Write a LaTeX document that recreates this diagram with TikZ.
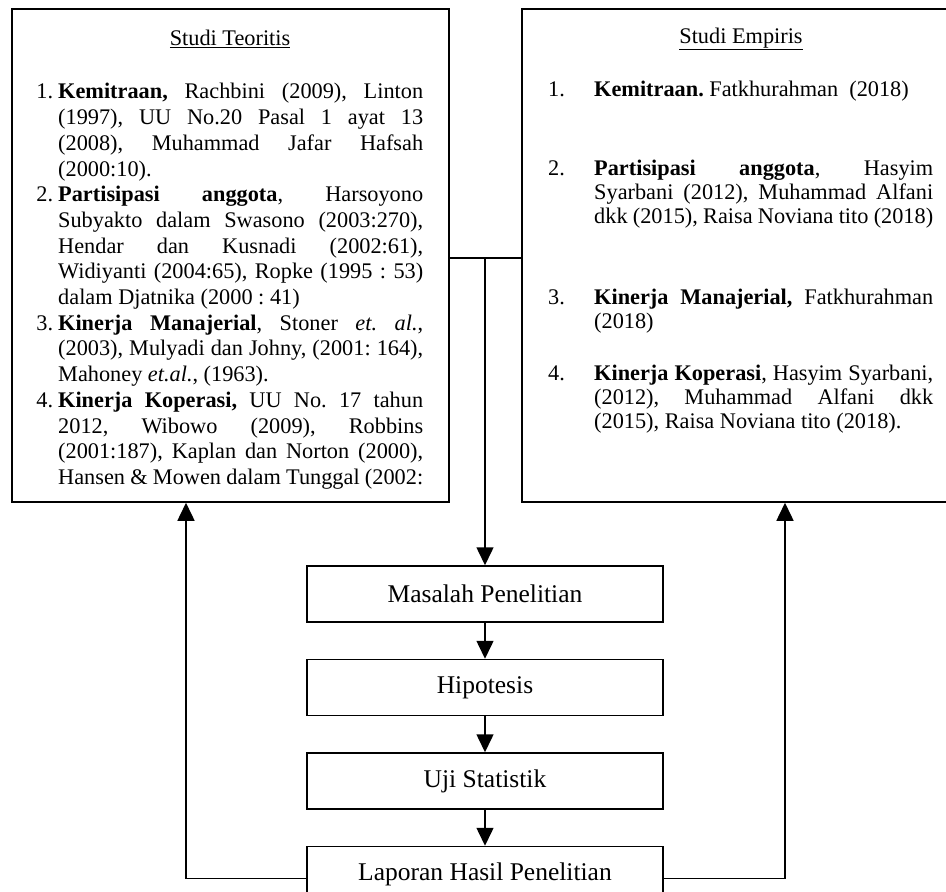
\documentclass[tikz,border=0pt]{standalone}
\usepackage{fontspec}
\setmainfont{Liberation Serif}
\usepackage{enumitem}
\usetikzlibrary{arrows.meta,positioning}
\frenchspacing

\begin{document}
\begin{tikzpicture}[x=1pt,y=-1pt,
  box/.style={draw,line width=1.5pt,inner sep=0pt},
  tahap/.style={draw,line width=1.5pt,minimum width=356pt,minimum height=56pt,
    font=\fontsize{25.5pt}{29pt}\selectfont},
  isi/.style={inner sep=0pt,anchor=north west,align=justify},
  judul/.style={inner sep=0pt,font=\fontsize{22.3pt}{25.7pt}\selectfont},
  panah/.style={line width=1.5pt,-{Triangle[length=18pt,width=17pt]}},
  garis/.style={line width=1.5pt}]
\useasboundingbox (0,0) rectangle (946,892);
% kotak studi
\node[box,minimum width=437pt,minimum height=493pt] (teori) at (230.5,255.5) {};
\node[box,minimum width=438pt,minimum height=493pt] (empiris) at (741,255.5) {};
\node[judul] (judulteori) at (230,39) {\underline{Studi Teoritis}};
\node[judul] (judulempiris) at (741,39) {\underline{Studi Empiris}};
\node[isi,text width=387pt,font=\fontsize{22.3pt}{25.7pt}\selectfont] (daftarteori) at (36,73) {%
\begin{enumerate}[leftmargin=22pt,labelsep=5pt,itemsep=0pt,topsep=0pt,parsep=0pt,partopsep=0pt]
\item \textbf{Kemitraan,} Rachbini (2009), Linton\linebreak (1997), UU No.20 Pasal 1 ayat 13\linebreak
 (2008), Muhammad Jafar Hafsah\linebreak (2000:10).
\item \textbf{Partisipasi anggota}, Harsoyono\linebreak Subyakto dalam Swasono (2003:270),\linebreak
 Hendar dan Kusnadi (2002:61),\linebreak Widiyanti (2004:65), Ropke (1995 : 53)\linebreak
 dalam Djatnika (2000 : 41)
\item \textbf{Kinerja Manajerial}, Stoner \textit{et. al.},\linebreak (2003), Mulyadi dan Johny, (2001: 164),\linebreak
 Mahoney \textit{et.al.}, (1963).
\item \textbf{Kinerja Koperasi,} UU No. 17 tahun\linebreak 2012, Wibowo (2009), Robbins\linebreak
 (2001:187), Kaplan dan Norton (2000),\linebreak Hansen \& Mowen dalam Tunggal (2002:
\end{enumerate}};
\node[isi,text width=385pt,font=\fontsize{22.3pt}{23.8pt}\selectfont] (daftarempiris) at (548,72) {%
\begin{enumerate}[leftmargin=46pt,labelsep=0pt,labelwidth=46pt,align=left,itemsep=0pt,topsep=0pt,parsep=0pt,partopsep=0pt]
\item \textbf{Kemitraan.} Fatkhurahman\ \ (2018)\par\vspace{56pt}
\item \textbf{Partisipasi anggota}, Hasyim\linebreak Syarbani (2012), Muhammad Alfani\linebreak
 dkk (2015), Raisa Noviana tito (2018)\par\vspace{57pt}
\item \textbf{Kinerja Manajerial,} Fatkhurahman\linebreak (2018)\par\vspace{29pt}
\item \textbf{Kinerja Koperasi}, Hasyim Syarbani,\linebreak (2012), Muhammad Alfani dkk\linebreak
 (2015), Raisa Noviana tito (2018).
\end{enumerate}};
% alur penelitian
\node[tahap] (masalah) at (485,594) {Masalah Penelitian};
\node[tahap,below=36pt of masalah] (hipotesis) {Hipotesis};
\node[tahap,below=36pt of hipotesis] (uji) {Uji Statistik};
\node[tahap,below=36pt of uji] (laporan) {Laporan Hasil Penelitian};
\coordinate (cabang) at (485,258);
\coordinate (balikkiri) at (186,0);
\coordinate (balikkanan) at (785,0);
\draw[garis] (cabang -| teori.east) -- (cabang -| empiris.west);
\draw[panah] (cabang) -- (masalah);
\draw[panah] (masalah) -- (hipotesis);
\draw[panah] (hipotesis) -- (uji);
\draw[panah] (uji) -- (laporan);
\draw[panah] ([yshift=-4pt]laporan.west) -| (teori.south -| balikkiri);
\draw[panah] ([yshift=-4pt]laporan.east) -| (empiris.south -| balikkanan);
\end{tikzpicture}
\end{document}
